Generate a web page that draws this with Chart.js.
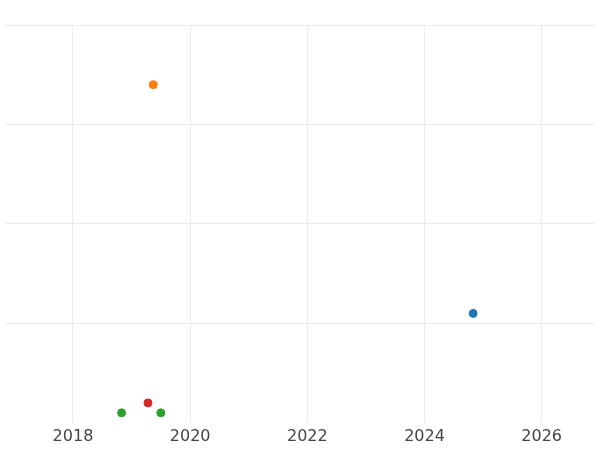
<!DOCTYPE html>
<html>
<head>
<meta charset="utf-8">
<script src="https://cdn.jsdelivr.net/npm/chart.js@4"></script>
<style>
  html, body { margin: 0; padding: 0; background: #fff; }
  #wrap { width: 600px; height: 450px; }
</style>
</head>
<body>
<div id="wrap"><canvas id="myChart"></canvas></div>
<script>
const years = [2024.83, 2019.37, 2018.83, 2019.5, 2019.28];
const values = [1.1, 3.4, 0.1, 0.1, 0.2];
const colors = ["#1f77b4", "#ff7f0e", "#2ca02c", "#2ca02c", "#d62728"];
const xTicks = [2018, 2020, 2022, 2024, 2026];

const ctx = document.getElementById("myChart");

new Chart(ctx, {
  type: "scatter",
  data: {
    datasets: [
      {
        data: years.map((x, i) => ({ x, y: values[i] })),
        backgroundColor: colors,
        borderColor: colors,
        pointRadius: 4,
        pointHoverRadius: 4,
      },
    ],
  },
  options: {
    responsive: true,
    maintainAspectRatio: false,
    animation: false,
    layout: { padding: { top: 25, left: -5, right: -5, bottom: 0 } },
    plugins: { legend: { display: false }, tooltip: { enabled: false } },
    scales: {
      x: {
        type: "linear",
        min: 2016.84,
        max: 2026.91,
        afterBuildTicks: (axis) => {
          axis.ticks = xTicks.map((v) => ({ value: v }));
        },
        grid: { color: "#ebebeb", drawTicks: false },
        border: { display: false },
        ticks: {
          color: "#444",
          font: { family: "DejaVu Sans", size: 16 },
          padding: 4,
          callback: (v) => String(v),
          maxRotation: 0,
        },
      },
      y: {
        min: 0,
        max: 4,
        grid: {
          color: (c) => (c.tick && c.tick.value === 0 ? "rgba(0,0,0,0)" : "#ebebeb"),
          drawTicks: false,
        },
        border: { display: false },
        ticks: { display: false, stepSize: 1, padding: 0 },
      },
    },
  },
});
</script>
</body>
</html>
